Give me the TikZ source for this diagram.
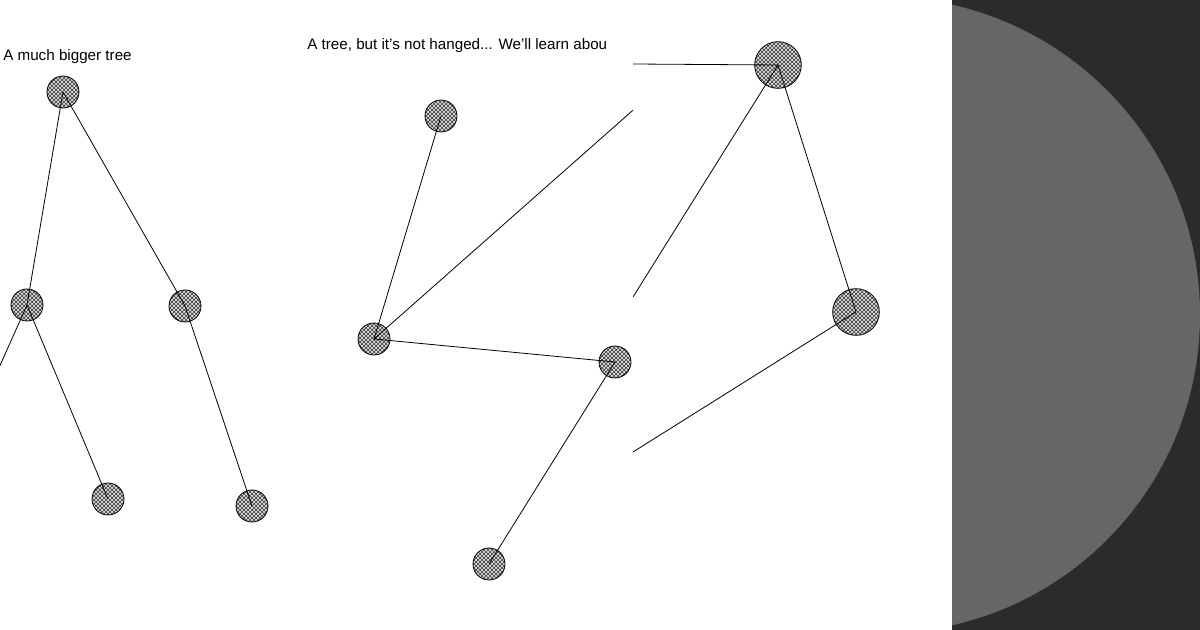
\documentclass[tikz,border=0pt]{standalone}
\usepackage{fontspec}
\setmainfont{Liberation Sans}
\usetikzlibrary{patterns}
\begin{document}
\begin{tikzpicture}[x=0.75pt,y=-0.75pt,
 tn/.style={circle,draw=black,line width=0.6pt,minimum size=24pt,inner sep=0pt,
   preaction={fill=gray!25},pattern=crosshatch,pattern color=black!80},
 bn/.style={tn,minimum size=35pt},
 ed/.style={draw=black,line width=0.6pt},
 ttl/.style={anchor=west,font=\fontsize{11.4}{13}\selectfont,inner sep=0pt}]
\useasboundingbox (0,0) rectangle (1200,630);
\fill[white] (0,0) rectangle (952,630);
% left panel
\begin{scope}
\clip (0,0) rectangle (300,630);
\node[ttl] (t1) at (3,57) {A much bigger tree};
\node[tn] (a) at (63,92) {};
\node[tn] (b) at (27,305) {};
\node[tn] (c) at (185,306) {};
\node[tn] (d) at (108,499) {};
\node[tn] (e) at (252,506) {};
\coordinate (bl) at (-2,370);
\draw[ed] (a.center)--(b.center) (a.center)--(c.center) (b.center)--(d.center) (c.center)--(e.center) (b.center)--(bl);
\end{scope}
% middle panel
\begin{scope}
\clip (300,0) rectangle (633,630);
\node[ttl] (t2) at (307,46) {A tree, but it's not hanged... We'll learn abou};
\node[tn] (f) at (441,116) {};
\node[tn] (g) at (374,339) {};
\node[tn] (h) at (615,362) {};
\node[tn] (i) at (489,564) {};
\coordinate (gu) at (640,104);
\draw[ed] (f.center)--(g.center) (g.center)--(gu) (g.center)--(h.center) (h.center)--(i.center);
\end{scope}
% right panel
\begin{scope}
\clip (633,0) rectangle (952,630);
\node[bn] (j) at (778,65) {};
\node[bn] (k) at (856,312) {};
\coordinate (j1) at (633,64);
\coordinate (j2) at (633,297);
\coordinate (k1) at (633,452);
\draw[ed] (j.center)--(j1) (j.center)--(j2) (j.center)--(k.center) (k.center)--(k1);
\end{scope}
% dark panel
\begin{scope}
\clip (952,0) rectangle (1200,630);
\fill[black!83] (952,0) rectangle (1200,630);
\fill[black!60] (882,315) circle[radius=318];
\end{scope}
\end{tikzpicture}
\end{document}
